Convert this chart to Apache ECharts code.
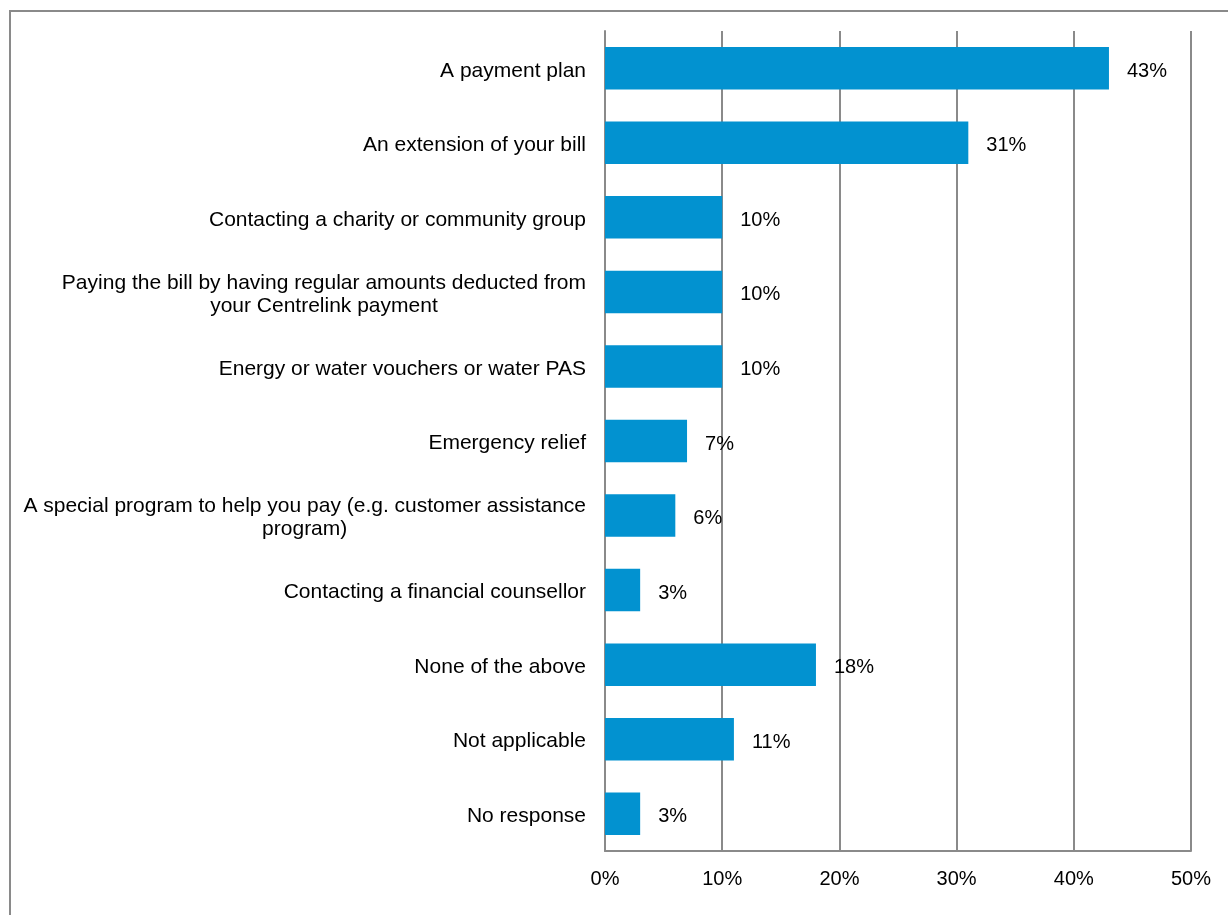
<!DOCTYPE html>
<html>
<head>
<meta charset="utf-8">
<script src="https://cdn.jsdelivr.net/npm/echarts@6/dist/echarts.min.js"></script>
<style>
  html, body { margin: 0; padding: 0; background: #fff; }
  #chart { width: 1228px; height: 915px; }
</style>
</head>
<body>
<div id="chart"></div>
<script>
// Assistance options (top to bottom) and share of respondents
const categories = [
  'A payment plan',
  'An extension of your bill',
  'Contacting a charity or community group',
  'Paying the bill by having regular amounts deducted from\nyour Centrelink payment',
  'Energy or water vouchers or water PAS',
  'Emergency relief',
  'A special program to help you pay (e.g. customer assistance\nprogram)',
  'Contacting a financial counsellor',
  'None of the above',
  'Not applicable',
  'No response'
];
const shares = [43, 31, 10, 10, 10, 7, 6, 3, 18, 11, 3];
const axisMax = 50;
const axisStep = 10;

const FONT = "'Liberation Sans', Arial, sans-serif";
const GRID_GREY = '#8a8a8a';

const chart = echarts.init(document.getElementById('chart'), null, { renderer: 'canvas' });

chart.setOption({
  animation: false,
  backgroundColor: '#ffffff',
  textStyle: { fontFamily: FONT },
  graphic: [{
    type: 'rect',
    silent: true,
    shape: { x: 10, y: 11, width: 1300, height: 1000 },
    style: { fill: 'none', stroke: GRID_GREY, lineWidth: 2 }
  }],
  grid: { left: 605, right: 37, top: 31, bottom: 64, containLabel: false },
  xAxis: {
    type: 'value',
    min: 0,
    max: axisMax,
    interval: axisStep,
    axisLine: { show: true, lineStyle: { color: GRID_GREY, width: 2 } },
    axisTick: { show: false },
    splitLine: { show: true, lineStyle: { color: GRID_GREY, width: 2 } },
    axisLabel: {
      formatter: '{value}%',
      color: '#000',
      fontSize: 20,
      fontFamily: FONT,
      margin: 18
    }
  },
  yAxis: {
    type: 'category',
    data: categories,
    inverse: true,
    axisLine: { show: true, lineStyle: { color: GRID_GREY, width: 2 } },
    axisTick: { show: false },
    axisLabel: {
      interval: 0,
      margin: 19,
      align: 'right',
      padding: [5, 0, 0, 0],
      // each line of a wrapped label is centred within its block
      formatter: function (text) {
        return text.split('\n').map(function (line) { return '{c|' + line + '}'; }).join('\n');
      },
      rich: {
        c: {
          align: 'center',
          color: '#000',
          fontSize: 21,
          fontFamily: FONT,
          lineHeight: 23
        }
      }
    }
  },
  series: [{
    type: 'bar',
    data: shares,
    barCategoryGap: '43%',
    itemStyle: { color: '#0292D0' },
    label: {
      show: true,
      position: 'right',
      distance: 18,
      offset: [0, 3],
      formatter: '{c}%',
      color: '#000',
      fontSize: 20,
      fontFamily: FONT
    }
  }]
});
</script>
</body>
</html>
